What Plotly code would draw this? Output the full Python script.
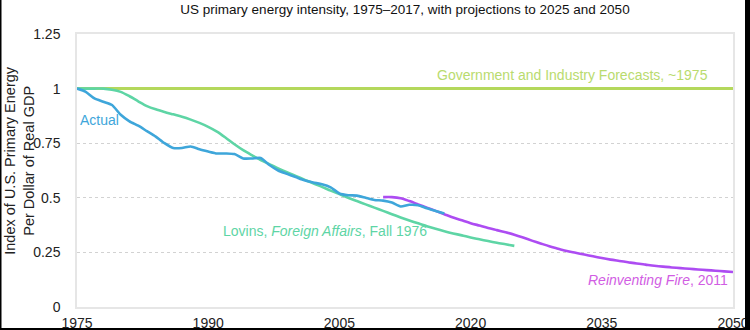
import plotly.graph_objects as go

# ---- data -------------------------------------------------------------
actual_years = list(range(1975, 2018))
actual_index = [1.00, 0.985, 0.955, 0.94, 0.925, 0.88, 0.85, 0.83, 0.805, 0.78,
                0.75, 0.728, 0.728, 0.735, 0.722, 0.712, 0.703, 0.703, 0.70, 0.68,
                0.68, 0.682, 0.65, 0.625, 0.61, 0.595, 0.58, 0.57, 0.562, 0.548,
                0.52, 0.512, 0.51, 0.50, 0.49, 0.487, 0.478, 0.46, 0.468, 0.466,
                0.452, 0.44, 0.428]

lovins_years = list(range(1975, 2026))
lovins_index = [1.0, 1.0, 1.0, 1.0, 0.995, 0.985, 0.965, 0.942, 0.92, 0.905,
                0.893, 0.882, 0.871, 0.858, 0.843, 0.825, 0.803, 0.775, 0.745, 0.718,
                0.695, 0.673, 0.654, 0.635, 0.617, 0.60, 0.583, 0.566, 0.55, 0.533,
                0.517, 0.50, 0.485, 0.47, 0.455, 0.44, 0.425, 0.41, 0.396, 0.383,
                0.37, 0.358, 0.347, 0.337, 0.328, 0.318, 0.31, 0.302, 0.294, 0.287,
                0.28]

rf_years = list(range(2010, 2051))
rf_index = [0.503, 0.503, 0.498, 0.485, 0.47, 0.455, 0.44, 0.425, 0.41, 0.397,
            0.384, 0.373, 0.362, 0.352, 0.342, 0.331, 0.318, 0.304, 0.291, 0.278,
            0.267, 0.256, 0.248, 0.24, 0.232, 0.224, 0.217, 0.211, 0.205, 0.199,
            0.194, 0.189, 0.185, 0.181, 0.178, 0.175, 0.172, 0.169, 0.166, 0.163,
            0.16]

gov_years = [1975, 2050]
gov_index = [1.0, 1.0]

x_ticks = [1975, 1990, 2005, 2020, 2035, 2050]
y_ticks = [0, 0.25, 0.5, 0.75, 1, 1.25]
y_tick_labels = ["0", "0.25", "0.5", "0.75", "1", "1.25"]

# ---- colours ----------------------------------------------------------
C_ACTUAL = "#3EA6DA"
C_GOV = "#B4D85C"
C_GOV_TXT = "#B9DB6E"
C_LOVINS = "#5ED5A5"
C_RF = "#AD4CF2"
C_RF_TXT = "#D15DE3"

FONT = "Liberation Sans, Arial, Helvetica, sans-serif"

fig = go.Figure()

fig.add_trace(go.Scatter(x=gov_years, y=gov_index, mode="lines",
                         line=dict(color=C_GOV, width=3)))
fig.add_trace(go.Scatter(x=lovins_years, y=lovins_index, mode="lines",
                         line=dict(color=C_LOVINS, width=2.6, shape="spline", smoothing=0.8)))
fig.add_trace(go.Scatter(x=rf_years, y=rf_index, mode="lines",
                         line=dict(color=C_RF, width=2.6, shape="spline", smoothing=0.8)))
fig.add_trace(go.Scatter(x=actual_years, y=actual_index, mode="lines",
                         line=dict(color=C_ACTUAL, width=2.6, shape="spline", smoothing=0.6)))

# series labels
labels = [
    dict(x=1977.6, y=0.856, text="Actual", color=C_ACTUAL),
    dict(x=2031.7, y=1.062, text="Government and Industry Forecasts, ~1975", color=C_GOV_TXT),
    dict(x=2003.4, y=0.348, text="Lovins, <i>Foreign Affairs</i>, Fall 1976", color=C_LOVINS),
    dict(x=2041.4, y=0.124, text="<i>Reinventing Fire</i>, 2011", color=C_RF_TXT),
]
for lb in labels:
    fig.add_annotation(x=lb["x"], y=lb["y"], xref="x", yref="y", text=lb["text"],
                       xanchor="center", yanchor="middle", showarrow=False,
                       font=dict(family=FONT, size=14, color=lb["color"]))

# y-axis title
fig.add_annotation(x=-0.0875, y=0.538, xref="paper", yref="paper",
                   xanchor="center", yanchor="middle",
                   text="Index of U.S. Primary Energy<br>Per Dollar of Real GDP",
                   textangle=-90, showarrow=False,
                   font=dict(family=FONT, size=14.5, color="#222222"))

# outer black frame (left, right and bottom edges)
def px_x(p):
    return (p - 77) / 656

def px_y(p):
    return (307 - p) / 273

frame = dict(type="rect", xref="paper", yref="paper", fillcolor="black", line=dict(width=0), layer="above")
fig.add_shape(**frame, x0=px_x(0), x1=px_x(1.5), y0=px_y(330), y1=px_y(0))
fig.add_shape(**frame, x0=px_x(745), x1=px_x(750), y0=px_y(330), y1=px_y(0))
fig.add_shape(**frame, x0=px_x(0), x1=px_x(750), y0=px_y(330), y1=px_y(328))

fig.update_layout(
    width=750, height=330,
    margin=dict(l=77, r=17, t=34, b=23, autoexpand=False),
    paper_bgcolor="white", plot_bgcolor="white",
    showlegend=False,
    font=dict(family=FONT, size=14, color="#222222"),
    title=dict(text="US primary energy intensity, 1975\u20132017, with projections to 2025 and 2050",
               x=0.54, xanchor="center", y=0.972, yanchor="middle", yref="container",
               font=dict(family=FONT, size=13.5, color="#111111")),
    xaxis=dict(range=[1975, 2050], tickvals=x_ticks, ticktext=[str(t) for t in x_ticks],
               showgrid=False, zeroline=False, showline=True, mirror=True, automargin=False,
               linecolor="#e6e6e6", linewidth=1.5, ticks="", ticklabelstandoff=2,
               tickfont=dict(family=FONT, size=14, color="#222222")),
    yaxis=dict(range=[0, 1.25], tickvals=y_ticks, ticktext=y_tick_labels,
               showgrid=True, gridcolor="#d2d2d2", griddash="dot", gridwidth=1,
               zeroline=False, showline=True, mirror=True, automargin=False,
               linecolor="#e6e6e6", linewidth=1.5, ticks="", ticklabelstandoff=12,
               tickfont=dict(family=FONT, size=14, color="#222222")),
)

fig.write_html("out.html", post_script="document.body.style.margin='0';")
